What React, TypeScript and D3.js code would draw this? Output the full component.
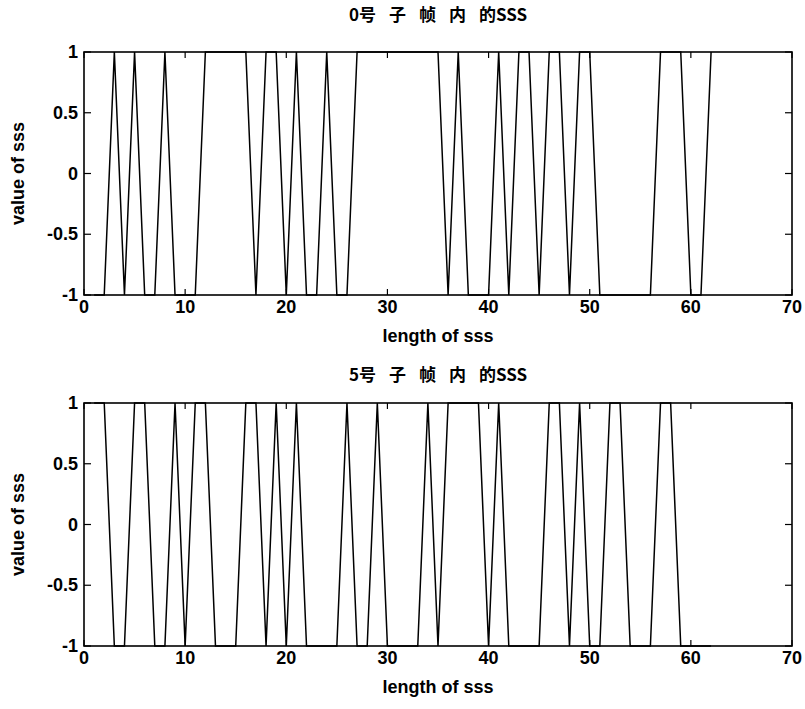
import React from "react";
import * as d3 from "d3";

const sss0: number[] = [
  -1, -1, 1, -1, 1, -1, -1, 1, -1, -1,
  -1, 1, 1, 1, 1, 1, -1, 1, 1, -1,
  1, -1, -1, 1, -1, -1, 1, 1, 1, 1,
  1, 1, 1, 1, 1, -1, 1, -1, -1, -1,
  1, -1, 1, 1, -1, 1, 1, -1, 1, 1,
  -1, -1, -1, -1, -1, -1, 1, 1, 1, -1,
  -1, 1,
];
const sss5: number[] = [
  1, 1, -1, -1, 1, 1, -1, -1, 1, -1,
  1, 1, -1, -1, -1, 1, 1, -1, 1, -1,
  1, -1, -1, -1, -1, 1, -1, -1, 1, -1,
  -1, -1, -1, 1, -1, 1, 1, 1, 1, -1,
  1, -1, -1, -1, -1, 1, 1, -1, 1, -1,
  -1, 1, 1, -1, -1, -1, 1, 1, -1, -1,
  -1, -1,
];
const xTicks = [0, 10, 20, 30, 40, 50, 60, 70];
const yTicks = [-1, -0.5, 0, 0.5, 1];
const yTickLabels = ["-1", "-0.5", "0", "0.5", "1"];
const titleParts0 = ["0号", "子", "帧", "内", "的SSS"];
const titleParts5 = ["5号", "子", "帧", "内", "的SSS"];
const xLabel = "length of sss";
const yLabel = "value of sss";

const W = 805;
const H = 709;
const left = 84;
const right = 792;
const font = "'Liberation Sans', Arial, sans-serif";
const cjkFont = "'Noto Sans CJK SC', 'Liberation Sans', sans-serif";

function Panel({
  data,
  top,
  bottom,
  title,
  titleY,
}: {
  data: number[];
  top: number;
  bottom: number;
  title: string[];
  titleY: number;
}) {
  const x = d3.scaleLinear().domain([0, 70]).range([left, right]);
  const y = d3.scaleLinear().domain([-1, 1]).range([bottom, top]);
  const line = d3
    .line<number>()
    .x((_, i) => x(i + 1))
    .y((d) => y(d));
  const tl = 6;
  return (
    <g>
      <path d={line(data) || ""} fill="none" stroke="#000" strokeWidth={1.5} />
      <rect x={left} y={top} width={right - left} height={bottom - top} fill="none" stroke="#000" strokeWidth={1.6} />
      {xTicks.map((t) => (
        <g key={"x" + t}>
          <line x1={x(t)} x2={x(t)} y1={bottom} y2={bottom - tl} stroke="#000" strokeWidth={1.2} />
          <line x1={x(t)} x2={x(t)} y1={top} y2={top + tl} stroke="#000" strokeWidth={1.2} />
          <text x={x(t)} y={bottom + 18} textAnchor="middle" fontFamily={font} fontWeight="bold" fontSize={18}>
            {t}
          </text>
        </g>
      ))}
      {yTicks.map((t, i) => (
        <g key={"y" + t}>
          <line x1={left} x2={left + 7} y1={y(t)} y2={y(t)} stroke="#000" strokeWidth={1.2} />
          <line x1={right} x2={right - 7} y1={y(t)} y2={y(t)} stroke="#000" strokeWidth={1.2} />
          <text x={left - 6} y={y(t) + 6} textAnchor="end" fontFamily={font} fontWeight="bold" fontSize={18}>
            {yTickLabels[i]}
          </text>
        </g>
      ))}
      <text x={(left + right) / 2} y={bottom + 47} textAnchor="middle" fontFamily={font} fontWeight="bold" fontSize={18}>
        {xLabel}
      </text>
      <text
        transform={`translate(24,${(top + bottom) / 2}) rotate(-90)`}
        textAnchor="middle"
        fontFamily={font}
        fontWeight="bold"
        fontSize={18}
      >
        {yLabel}
      </text>
      <text x={(left + right) / 2} y={titleY} textAnchor="middle" fontFamily={cjkFont} fontWeight="bold" fontSize={17}>
        {title.map((p, i) => (
          <tspan key={i} dx={i === 0 ? 0 : 13}>
            {p}
          </tspan>
        ))}
      </text>
    </g>
  );
}

export default function App() {
  return (
    <svg width={W} height={H} style={{ position: "absolute", left: 0, top: 0, background: "#fff" }}>
      <rect x={0} y={0} width={W} height={H} fill="#fff" />
      <Panel data={sss0} top={52} bottom={295} title={titleParts0} titleY={21} />
      <Panel data={sss5} top={403} bottom={646} title={titleParts5} titleY={381} />
    </svg>
  );
}
